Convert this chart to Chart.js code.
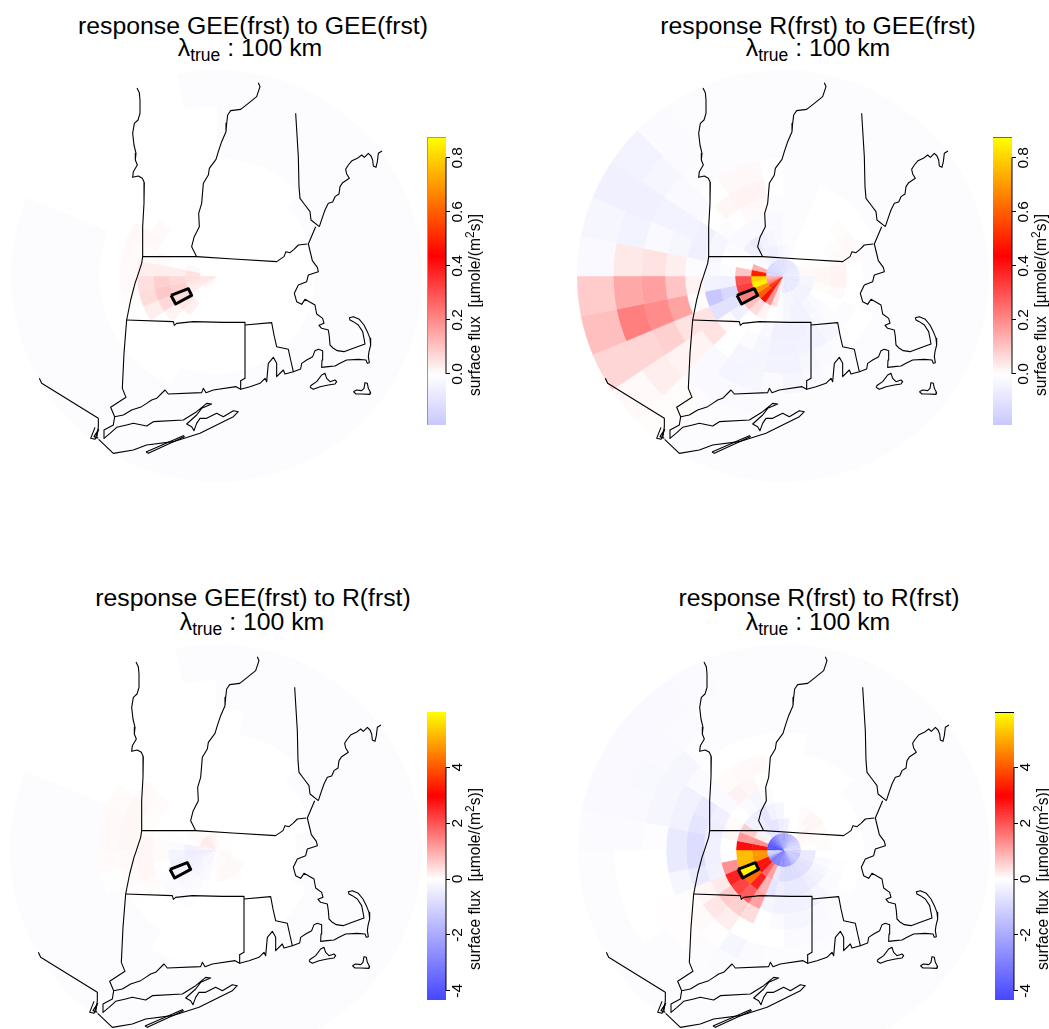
<!DOCTYPE html>
<html>
<head>
<meta charset="utf-8">
<style>
html, body { margin: 0; padding: 0; width: 1049px; height: 1029px; overflow: hidden; background: #fff; }
body { position: relative; font-family: "Liberation Sans", Arial, sans-serif; color: #000; }
canvas { position: absolute; }
.title { position: absolute; transform: translateX(-50%); font-size: 24.8px; white-space: nowrap; line-height: 26px; }
.title sub { font-size: 17.5px; line-height: 0; vertical-align: -5px; }
.flux { position: absolute; transform: translate(-50%, -50%) rotate(-90deg); font-size: 15.6px; white-space: pre; line-height: 16px; }
.flux sup { font-size: 12px; line-height: 0; vertical-align: 6px; }
</style>
<script src="https://cdn.jsdelivr.net/npm/chart.js@4/dist/chart.umd.js"></script>
</head>
<body>
<script>
// rings go from the tower outward, sectors clockwise from east (11.25 deg each, first ring 5.625)
const z = -0.01;   // faint background flux, top panels
const y = -0.07;   // same, bottom panels

const geeToGee = [
 [0,0,0,0,0,0,0,0,0,0,0,0,0,0,0,0,0,0,0,0,.005,.005,.01,.01,.02,.02,.03,.04,.05,.04,.05,.05,0,0,0,0,0,0,0,0,0,0,0,0,0,0,0,0,0,0,0,0,0,0,0,0,0,0,0,0,0,0,0,0],
 [0,0,0,0,0,0,0,0,0,0,0,0,0,.03,.04,.055,.05,.01,0,0,0,0,0,0,0,0,0,0,0,0,0,0],
 [0,0,0,0,0,0,0,0,0,0,0,.025,.04,.06,.08,.065,.03,0,0,0,0,0,0,0,0,0,0,0,0,0,0,0],
 [0,0,0,0,0,0,0,0,0,0,0,0,.02,.065,.095,.08,.03,.01,0,0,0,0,0,0,0,0,0,0,0,0,0,0],
 [0,0,0,0,0,0,0,0,0,0,0,0,0,.03,.06,.055,.03,.005,.01,.01,0,0,0,0,0,0,0,0,0,0,0,0],
 [0,0,0,0,0,0,0,0,0,0,0,0,0,0,.005,.01,.01,.01,.012,0,0,0,0,0,0,0,0,0,0,0,0,0],
 [z,z,z,z,z,z,z,z,z,z,0,0,0,0,0,0,0,0,0,0,0,0,0,0,0,0,0,0,z,z,z,z],
 [z,z,z,z,z,z,z,z,z,z,z,z,z,z,z,z,z,z,0,0,0,0,0,0,z,z,z,z,z,z,z,z],
 [z,z,z,z,z,z,z,z,z,z,z,z,z,z,z,z,z,z,0,0,0,0,0,0,z,z,z,z,z,z,z,z],
 [z,z,z,z,z,z,z,z,z,z,z,z,z,z,z,z,z,z,0,0,0,0,0,z,z,z,z,z,z,z,z,z]
];

const rToGee = [
 [-.08,-.06,-.08,-.09,-.08,-.06,-.09,-.07,-.08,-.09,-.08,-.06,-.08,-.09,-.09,-.07,-.06,-.02,.05,.03,.22,.18,.48,.45,.55,.5,.28,.22,.21,.17,.15,.13,-.15,-.12,-.16,-.13,-.15,-.12,-.14,-.11,-.14,-.11,-.13,-.1,-.13,-.1,-.12,-.09,-.12,-.09,-.11,-.08,-.1,-.08,-.1,-.08,-.09,-.07,-.08,-.06,-.08,-.05,-.08,-.05],
 [-.03,-.03,-.04,-.04,-.04,-.04,-.03,-.03,-.01,.05,.19,.46,.6,.7,.85,.8,.49,.14,-.01,-.02,-.04,-.05,-.05,-.03,-.02,-.01,0,0,0,.005,.01,.01],
 [.015,.005,0,-.02,-.03,-.04,-.04,-.03,-.01,0,.02,.06,.11,.22,.33,.3,.1,0,-.01,-.05,-.07,-.04,-.03,-.02,-.01,-.01,0,0,0,0,.005,.015],
 [.02,.01,0,-.01,-.02,-.04,-.05,-.05,-.05,-.02,0,0,-.05,-.1,-.13,-.05,-.01,0,-.01,-.02,-.02,-.02,-.02,-.02,-.01,-.01,0,0,0,.005,.01,.02],
 [0,0,-.01,-.01,-.03,-.04,-.04,-.045,-.045,-.03,-.01,0,.01,-.1,-.19,-.04,-.02,-.03,-.03,-.01,0,.01,.01,-.01,-.01,-.01,0,0,.005,.01,.01,0],
 [z,z,0,0,-.01,-.02,-.03,-.04,-.04,-.035,-.03,0,.05,.05,.005,.02,-.01,-.05,-.05,0,.015,.02,.02,0,-.01,-.01,0,0,0,0,z,z],
 [z,z,z,z,-.01,-.01,-.02,-.03,-.015,-.03,-.035,-.02,.02,.05,.16,.1,.03,-.03,-.04,-.02,0,.012,.012,0,-.01,-.01,z,z,z,z,z,z],
 [z,z,z,z,z,z,-.01,-.01,z,-.015,-.02,-.02,.02,.08,.2,.165,.05,-.02,-.04,-.02,-.01,z,z,z,z,z,z,z,z,z,z,z],
 [z,z,z,z,z,z,z,z,z,z,-.01,.005,.03,.07,.22,.15,.04,-.04,-.05,-.03,-.015,-.01,z,z,z,z,z,z,z,z,z,z],
 [z,z,z,z,z,z,z,z,z,z,z,.005,.01,.07,.11,.09,-.02,-.03,-.05,-.04,-.015,-.01,z,z,z,z,z,z,z,z,z,z]
];

const geeToR = [
 [.05,.03,.08,.06,.1,.08,.08,.05,.06,.04,.05,.03,.04,.06,.03,.06,.02,.06,-.05,-.1,-.2,-.25,-.1,-.2,-.1,-.2,-.2,-.3,-.3,-.4,-.4,-.45,.1,.14,.17,.2,.2,.24,.24,.27,.27,.24,.24,.2,.2,.14,.1,.14,.06,.06,.03,.06,.03,.03,.03,.03,.02,.02,.02,.02,.02,.02,.03,.03],
 [0,0,.05,.08,.08,.08,.08,.05,0,-.1,-.15,-.2,-.25,-.3,-.35,-.42,-.3,.02,.06,.08,.04,0,0,0,0,0,0,0,0,0,0,0],
 [0,0,0,0,0,0,0,0,0,-.05,-.1,-.15,-.2,-.25,-.3,-.25,-.1,-.03,0,0,0,0,0,0,0,0,0,0,0,0,0,0],
 [0,0,0,0,0,0,0,0,0,0,-.05,-.1,-.1,-.05,0,.05,.05,0,0,0,0,0,0,0,0,0,0,0,0,0,0,0],
 [0,0,0,0,0,0,0,0,0,0,0,0,0,.05,.1,.1,.1,.03,.03,.05,0,0,0,0,0,0,0,0,0,0,0,0],
 [y,y,0,0,0,0,0,0,0,0,0,0,0,.02,.05,.07,.1,.1,.1,.07,0,0,0,0,0,0,0,0,0,0,0,y],
 [y,y,y,y,y,0,0,0,0,0,0,y,y,y,.01,.05,.07,.07,.05,0,0,0,0,0,0,0,0,0,y,y,y,y],
 [y,y,y,y,y,y,y,y,y,y,y,y,y,y,y,y,y,y,0,0,0,0,0,0,0,y,y,y,y,y,y,y],
 [y,y,y,y,y,y,y,y,y,y,y,y,y,y,y,y,y,y,0,0,0,0,0,0,y,y,y,y,y,y,y,y],
 [y,y,y,y,y,y,y,y,y,y,y,y,y,y,y,y,y,y,0,0,0,0,0,y,y,y,y,y,y,y,y,y]
];

const rToR = [
 [-1.2,-1,-1.2,-1.4,-1.3,-1.1,-1.4,-1.2,-1.6,-1.4,-1.8,-2,-2.4,-2.2,-2.6,-2.4,-2.6,-2.8,-2.4,-3,-3.2,-2.8,-3.2,-3,-3.4,-3,-2.6,-2,-1.4,-1.1,-1.2,-.9,-4.2,-3.9,-4.2,-4,-3.9,-3.6,-3.6,-3.2,-3.2,-2.8,-2.8,-2.4,-2.4,-2,-2.2,-2,-2.2,-1.8,-2,-1.6,-1.8,-1.4,-1.6,-1.2,-1.4,-1,-1.2,-.9,-1,-.8,-1,-.8],
 [-.5,-.5,-.6,-.7,-.7,-.8,-.8,-.8,-.7,-.5,1.1,1.8,2.8,3.2,4.7,4.8,2.8,1.3,.2,-.2,-.5,-.6,-.6,-.4,-.3,0,0,.05,.15,.1,.05,0],
 [0,-.1,-.2,-.3,-.4,-.5,-.5,-.5,-.4,-.6,.9,2.6,4.3,5.9,5.2,5.2,2.85,1.2,.6,-.3,-.4,-.6,-.3,-.2,0,0,.05,.1,.1,.05,.05,.05],
 [0,-.05,-.1,-.12,-.2,-.3,-.3,-.3,-.3,-.2,1.1,1.9,2.2,2.6,1.3,-.05,0,.1,.05,0,-.1,-.2,-.1,0,0,0,0,0,0,0,0,0],
 [0,0,0,-.05,-.1,-.15,-.2,-.2,-.1,0,.4,.55,.6,.25,-.3,-.35,-.35,-.4,-.35,-.1,.15,.1,0,0,0,0,0,0,0,0,0,0],
 [y,y,y,y,-.08,-.1,-.1,-.1,0,0,0,.2,.28,.1,-.5,-.8,-.8,-.6,-.5,-.1,.05,.07,.07,0,0,0,0,0,y,y,y,y],
 [y,y,y,y,y,y,y,y,y,-.1,-.2,.02,.06,.03,-.2,-.5,-.5,-.3,-.3,-.1,0,0,0,0,0,y,y,y,y,y,y,y],
 [y,y,y,y,y,y,y,y,y,y,-.12,y,.02,.02,0,0,-.05,-.2,-.2,-.2,-.05,y,y,y,y,y,y,y,y,y,y,y],
 [y,y,y,y,y,y,y,y,y,y,y,y,y,0,0,0,-.1,-.15,-.17,-.15,-.1,y,y,y,y,y,y,y,y,y,y,y],
 [y,y,y,y,y,y,y,y,y,y,y,y,y,y,y,y,-.1,-.15,-.15,-.15,-.15,-.1,y,y,y,y,y,y,y,y,y,y]
];

const ringWidths = [17, 15, 16, 16, 16, 18, 20, 24, 28, 36];

// map outlines, in map units
const nyVermont = [[411,54],[418,68],[420,90],[420,130],[414,150],[403,160],[398,190],[402,225],[408,250],[406,270],[412,285],[400,305],[398,322],[415,318],[427,325],[433,338],[432,400],[428,470],[428,560],[425,580],[412,620],[405,640],[392,690],[380,750],[372,850],[367,955],[378,982],[332,1012],[344,1040]];
const maNorth = [[428,560],[590,560],[700,567],[830,575],[852,560],[858,545],[870,548],[882,538],[895,525],[922,522]];
const ctRiver = [[775,38],[780,50],[770,80],[745,100],[722,118],[692,122],[683,135],[680,160],[678,185],[665,215],[655,245],[648,268],[628,295],[625,315],[610,340],[605,400],[596,430],[598,470],[582,502],[575,530],[590,560]];
const nhMaine = [[887,130],[895,260],[897,350],[900,385],[915,405],[930,425],[933,450],[958,470]];
const maineCoast = [[958,470],[968,440],[975,420],[985,400],[998,396],[1005,380],[1017,372],[1020,350],[1028,338],[1048,325],[1040,312],[1037,298],[1045,285],[1056,272],[1072,265],[1085,255],[1093,262],[1105,250],[1113,258],[1118,270],[1120,288],[1128,292],[1132,275],[1135,250],[1146,243]];
const maCoast = [[947,470],[925,522],[933,555],[937,572],[952,592],[955,605],[925,615],[920,635],[895,645],[883,670],[890,695],[905,703],[915,688],[945,705],[950,732],[968,745],[972,760],[957,766],[965,775],[985,780],[988,800],[990,825],[1000,835],[1012,842],[1032,845],[1060,835],[1095,822],[1092,805],[1088,785],[1075,765],[1060,755],[1050,750],[1048,743],[1060,740],[1078,748],[1092,765],[1102,785],[1110,805],[1112,825],[1107,845],[1105,860],[1108,878],[1102,880],[1098,870],[1075,868],[1040,870],[1020,880],[1005,888],[985,890],[965,892],[966,870],[968,842],[955,838],[945,842],[938,860],[920,870],[905,880],[902,897],[880,905],[872,870],[865,838],[830,830],[822,795],[815,758],[735,765]];
const ctNorth = [[380,750],[520,755],[523,766],[530,760],[580,755],[670,757],[735,757],[735,925],[722,932],[722,958]];
const ctCoast = [[722,958],[708,950],[640,960],[618,968],[610,955],[605,968],[505,972],[495,960],[470,985],[455,990],[440,1000],[425,1010],[395,1020],[370,1035],[344,1040],[340,1065],[312,1080],[312,1105]];
const riCoast = [[722,958],[750,950],[780,940],[795,925],[800,935],[805,880],[820,862],[830,880],[830,920],[850,900],[855,912],[880,905]];
const longIsland = [[312,1105],[330,1090],[350,1072],[380,1065],[400,1060],[440,1068],[460,1055],[550,1050],[590,1025],[620,1000],[635,1002],[605,1015],[590,1035],[560,1062],[575,1070],[582,1082],[590,1060],[600,1045],[620,1045],[650,1030],[670,1040],[700,1022],[715,1025],[700,1040],[600,1090],[520,1115],[440,1125],[400,1140],[340,1150],[296,1108]];
const fireIsland = [[438,1146],[550,1097],[553,1100],[445,1150],[438,1146]];
const vineyard = [[930,950],[935,945],[950,935],[965,915],[975,910],[980,925],[990,935],[1005,930],[1010,935],[1005,942],[985,945],[960,950],[940,958],[930,952]];
const nantucket = [[1060,965],[1070,960],[1085,962],[1092,955],[1095,938],[1102,940],[1105,955],[1112,968],[1110,973],[1085,972],[1068,972],[1060,965]];
const nyNj = [[118,925],[125,940],[295,1045],[295,1070],[290,1105]];
const nycTangle = [[285,1072],[272,1105],[285,1108],[296,1078],[282,1100],[295,1105]];
const mapLines = [nyVermont, maNorth, ctRiver, nhMaine, maineCoast, maCoast, ctNorth, ctCoast, riCoast, longIsland, fireIsland, vineyard, nantucket, nyNj, nycTangle];
const towerBox = [[513,676],[565,656],[575,676],[527,702],[513,676]];

const ticksTop = [0, 0.2, 0.4, 0.6, 0.8];
const ticksBottom = [-4, -2, 0, 2, 4];

const panels = [
  {title: 'response GEE(frst) to GEE(frst)', rings: geeToGee, cx: 217, cy: 276, tx: 253, ty: 13, lx: 250, ly: 35, barX: 427, barTop: 137.3, barBot: 425, lo: -0.189, hi: 0.877, ticks: ticksTop, fluxY: 305, cap: '#999', edge: '#999'},
  {title: 'response R(frst) to GEE(frst)', rings: rToGee, cx: 783, cy: 276, tx: 818, ty: 13, lx: 818, ly: 35, barX: 993, barTop: 137.3, barBot: 425, lo: -0.189, hi: 0.877, ticks: ticksTop, fluxY: 305, cap: '#666'},
  {title: 'response GEE(frst) to R(frst)', rings: geeToR, cx: 216, cy: 850, tx: 253, ty: 585, lx: 252, ly: 609, barX: 427, barTop: 712, barBot: 1000, lo: -4.33, hi: 5.98, ticks: ticksBottom, fluxY: 879},
  {title: 'response R(frst) to R(frst)', rings: rToR, cx: 784, cy: 850, tx: 819, ty: 585, lx: 818, ly: 609, barX: 995, barTop: 712, barBot: 1000, lo: -4.33, hi: 5.98, ticks: ticksBottom, fluxY: 879, cap: '#000'}
];

function fluxColor(v, hi) {
  var t = v / hi;
  var c;
  if (t < 0) {
    c = Math.round(255 * (1 + t));
    return 'rgb(' + c + ',' + c + ',255)';
  }
  if (t < 0.5) {
    c = Math.round(255 * (1 - 2 * t));
    return 'rgb(255,' + c + ',' + c + ')';
  }
  c = Math.round(255 * (2 * t - 1));
  return 'rgb(255,' + Math.min(c, 255) + ',0)';
}

function addCanvas(left, top, w, h) {
  var c = document.createElement('canvas');
  c.width = w;
  c.height = h;
  c.style.left = left + 'px';
  c.style.top = top + 'px';
  c.style.width = w + 'px';
  c.style.height = h + 'px';
  document.body.appendChild(c);
  return c;
}

function addText(cls, left, top, html) {
  var d = document.createElement('div');
  d.className = cls;
  d.style.left = left + 'px';
  d.style.top = top + 'px';
  d.innerHTML = html;
  document.body.appendChild(d);
}

const plain = {responsive: false, animation: false, devicePixelRatio: 1};

function drawDisk(p) {
  var datasets = p.rings.map(function(ring, i) {
    var colors = ring.map(function(v) { return fluxColor(v, p.hi); });
    return {
      data: ring.map(function() { return 1; }),
      weight: ringWidths[i],
      backgroundColor: colors,
      borderColor: colors,
      borderWidth: 0.4
    };
  }).reverse();   // chart.js puts the first dataset on the outside
  new Chart(addCanvas(p.cx - 206, p.cy - 206, 412, 412), {
    type: 'doughnut',
    data: {datasets: datasets},
    options: Object.assign({}, plain, {
      cutout: 0,
      rotation: 90,
      events: [],
      layout: {padding: 0},
      plugins: {legend: {display: false}, tooltip: {enabled: false}}
    })
  });
}

function drawMap(p) {
  var datasets = mapLines.map(function(line) {
    return {data: line, borderColor: '#000', borderWidth: 1.1};
  });
  datasets.push({data: towerBox, borderColor: '#000', borderWidth: 3});
  new Chart(addCanvas(p.cx - 206, p.cy - 206, 412, 412), {
    type: 'scatter',
    data: {datasets: datasets},
    options: Object.assign({}, plain, {
      showLine: true,
      events: [],
      layout: {padding: 0},
      elements: {point: {radius: 0}, line: {tension: 0, borderJoinStyle: 'round'}},
      plugins: {legend: {display: false}, tooltip: {enabled: false}},
      scales: {
        x: {display: false, min: 33, max: 1269},
        y: {display: false, min: 0, max: 1236, reverse: true}
      }
    })
  });
}

// the axis line only runs between the first and last tick
function tickSpan(p) {
  return {
    id: 'tickSpan',
    afterDraw: function(chart) {
      var s = chart.scales.x, t = s.ticks, ctx = chart.ctx, a = chart.chartArea;
      ctx.save();
      ctx.lineWidth = 1;
      ctx.strokeStyle = '#000';
      ctx.beginPath();
      ctx.moveTo(s.getPixelForValue(t[0].value), a.bottom);
      ctx.lineTo(s.getPixelForValue(t[t.length - 1].value), a.bottom);
      ctx.stroke();
      if (p.cap) {
        ctx.strokeStyle = p.cap;
        ctx.beginPath();
        ctx.moveTo(a.right - 0.5, a.top);
        ctx.lineTo(a.right - 0.5, a.bottom);
        ctx.stroke();
      }
      if (p.edge) {
        ctx.strokeStyle = p.edge;
        ctx.beginPath();
        ctx.moveTo(a.left, a.top + 0.5);
        ctx.lineTo(a.right, a.top + 0.5);
        ctx.stroke();
      }
      ctx.restore();
    }
  };
}

// drawn flat then turned with css, so ticks and labels read bottom to top
function drawBar(p) {
  var w = p.barBot - p.barTop, h = 44, thick = 19, steps = 110;
  var datasets = [];
  for (var i = steps - 1; i >= 0; i--) {
    var from = p.lo + (p.hi - p.lo) * i / steps;
    var mid = p.lo + (p.hi - p.lo) * (i + 0.5) / steps;
    datasets.push({data: [[from, p.hi]], backgroundColor: fluxColor(mid, p.hi), grouped: false, barPercentage: 1, categoryPercentage: 1});
  }
  var c = addCanvas(p.barX, p.barBot, Math.round(w), h);
  c.style.transformOrigin = '0 0';
  c.style.transform = 'rotate(-90deg)';
  new Chart(c, {
    type: 'bar',
    data: {labels: [''], datasets: datasets},
    plugins: [tickSpan(p)],
    options: Object.assign({}, plain, {
      indexAxis: 'y',
      events: [],
      layout: {padding: 0},
      plugins: {legend: {display: false}, tooltip: {enabled: false}},
      scales: {
        y: {display: false},
        x: {
          min: p.lo,
          max: p.hi,
          afterBuildTicks: function(axis) {
            axis.ticks = p.ticks.map(function(v) { return {value: v}; });
          },
          afterFit: function(axis) { axis.height = h - thick; },
          border: {display: false},
          grid: {drawOnChartArea: false, drawTicks: true, tickLength: 4, tickColor: '#000', tickWidth: 1},
          ticks: {
            autoSkip: false,
            maxRotation: 0,
            padding: -2,
            color: '#000',
            font: {family: '"Liberation Sans"', size: 15.5},
            callback: function(v) { return p.hi < 1 ? v.toFixed(1) : String(v); }
          }
        }
      }
    })
  });
}

panels.forEach(function(p) {
  drawDisk(p);
  drawMap(p);
  drawBar(p);
  addText('title', p.tx, p.ty, p.title);
  addText('title', p.lx, p.ly, 'λ<sub>true</sub> : 100 km');
  addText('flux', p.barX + 48, p.fluxY, 'surface flux  [µmole/(m<sup>2</sup>s)]');
});
</script>
</body>
</html>
